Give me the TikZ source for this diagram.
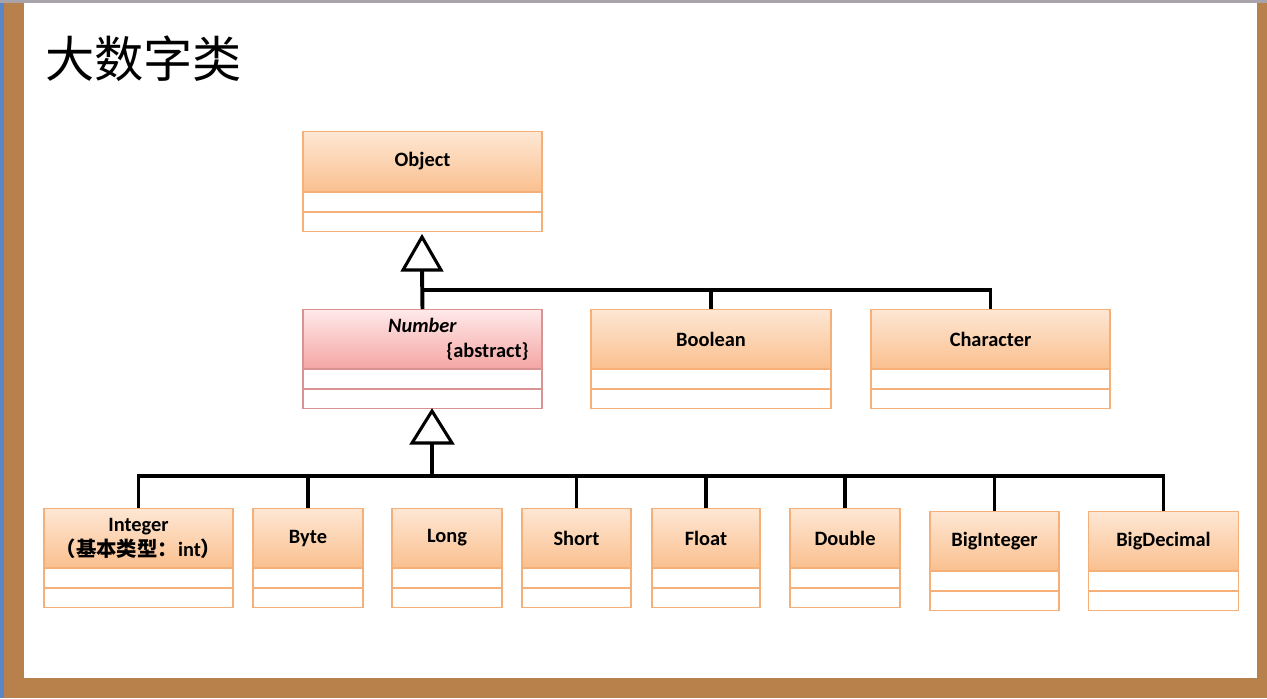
\documentclass[tikz,border=0pt]{standalone}
\usepackage{fontspec}
\setmainfont{Carlito}
\newfontfamily\cjk{Noto Sans CJK SC}
\usetikzlibrary{positioning,calc}
\definecolor{wood}{HTML}{B8804A}
\definecolor{edge}{HTML}{5A86C8}
\definecolor{topbar}{HTML}{A9A3AB}
\definecolor{orgtop}{HTML}{FEE7D4}
\definecolor{orgbot}{HTML}{FAC08F}
\definecolor{orgline}{HTML}{F5B07A}
\definecolor{pnktop}{HTML}{FFE9E9}
\definecolor{pnkbot}{HTML}{F4A6A4}
\definecolor{pnkline}{HTML}{D89492}
\tikzset{
  heado/.style={draw=orgline, line width=0.8pt, top color=orgtop, bottom color=orgbot,
    inner sep=0pt, anchor=north, align=center, font=\fontsize{14.5}{17.7}\selectfont\bfseries},
  headn/.style={heado, draw=pnkline, top color=pnktop, bottom color=pnkbot},
  cello/.style={draw=orgline, line width=0.8pt, fill=white, inner sep=0pt, minimum height=0.47cm},
  celln/.style={cello, draw=pnkline},
  link/.style={draw=black, line width=2.8pt, line join=miter},
  tri/.style={draw=black, fill=white, line width=2.2pt, line join=miter},
  ttl/.style={font=\cjk\fontsize{35}{40}\selectfont, anchor=west, inner sep=0pt},
}
% class box: scheme, name, centre x, top y, width, header height, text
\newcommand\umlbox[7]{%
  \node[head#1, minimum width=#5*0.025cm, minimum height=#6*0.025cm] (#2) at (#3,#4) {#7};
  \node[cell#1, minimum width=#5*0.025cm, below=0pt of #2] (#2a) {};
  \node[cell#1, minimum width=#5*0.025cm, below=0pt of #2a] (#2b) {};
}

\begin{document}
\begin{tikzpicture}[x=0.025cm, y=-0.025cm]
  % slide frame
  \fill[wood] (0,0) rectangle (1267,698);
  \fill[edge] (0,0) rectangle (4,698);
  \fill[topbar] (0,0) rectangle (1267,3);
  \fill[white] (24,3) rectangle (1257,678);
  \useasboundingbox (0,0) rectangle (1267,698);

  \node[ttl] (title) at (45,59) {大数字类};

  \umlbox{o}{obj}{422.5}{131}{239}{60}{Object}
  \umlbox{n}{num}{422.5}{309}{239}{59}{\textit{Number}\\\hspace*{3.25cm}\{abstract\}}
  \umlbox{o}{bool}{711}{309}{240}{59}{Boolean}
  \umlbox{o}{char}{990.5}{309}{239}{59}{Character}

  \foreach \nm/\cx/\tp/\bw/\txt in {
      int/138.5/508/189/{Integer\\{\cjk （基本类型：}int{\cjk ）}},
      byte/308/508/110/Byte, long/447/508/110/Long, short/576.5/508/109/Short,
      float/706/508/108/Float, dbl/845/508/110/Double,
      bint/994.5/511/129/BigInteger, bdec/1163.5/511/150/BigDecimal}
    {\umlbox{o}{\nm}{\cx}{\tp}{\bw}{59}{\txt}}

  % Object <- Number, Boolean, Character
  \coordinate (t1) at (422,237);
  \coordinate (j1) at (422,290);
  \draw[tri] (t1) -- ++(-19,33) -- ++(38,0) -- cycle;
  \draw[link] ($(t1)+(0,33)$) -- (num.north);
  \draw[link] (j1) -| (bool.north);
  \draw[link] (j1) -| (char.north);

  % Number <- wrappers
  \coordinate (t2) at (432,411);
  \coordinate (j2) at (432,476);
  \draw[tri] (t2) -- ++(-20,32) -- ++(40,0) -- cycle;
  \draw[link] ($(t2)+(0,32)$) -- (j2);
  \draw[link] (int.north) |- (j2) -| (bdec.north);
  \foreach \nm in {byte,short,float,dbl,bint}
    \draw[link] (\nm.north) -- (\nm.north |- j2);
\end{tikzpicture}
\end{document}
